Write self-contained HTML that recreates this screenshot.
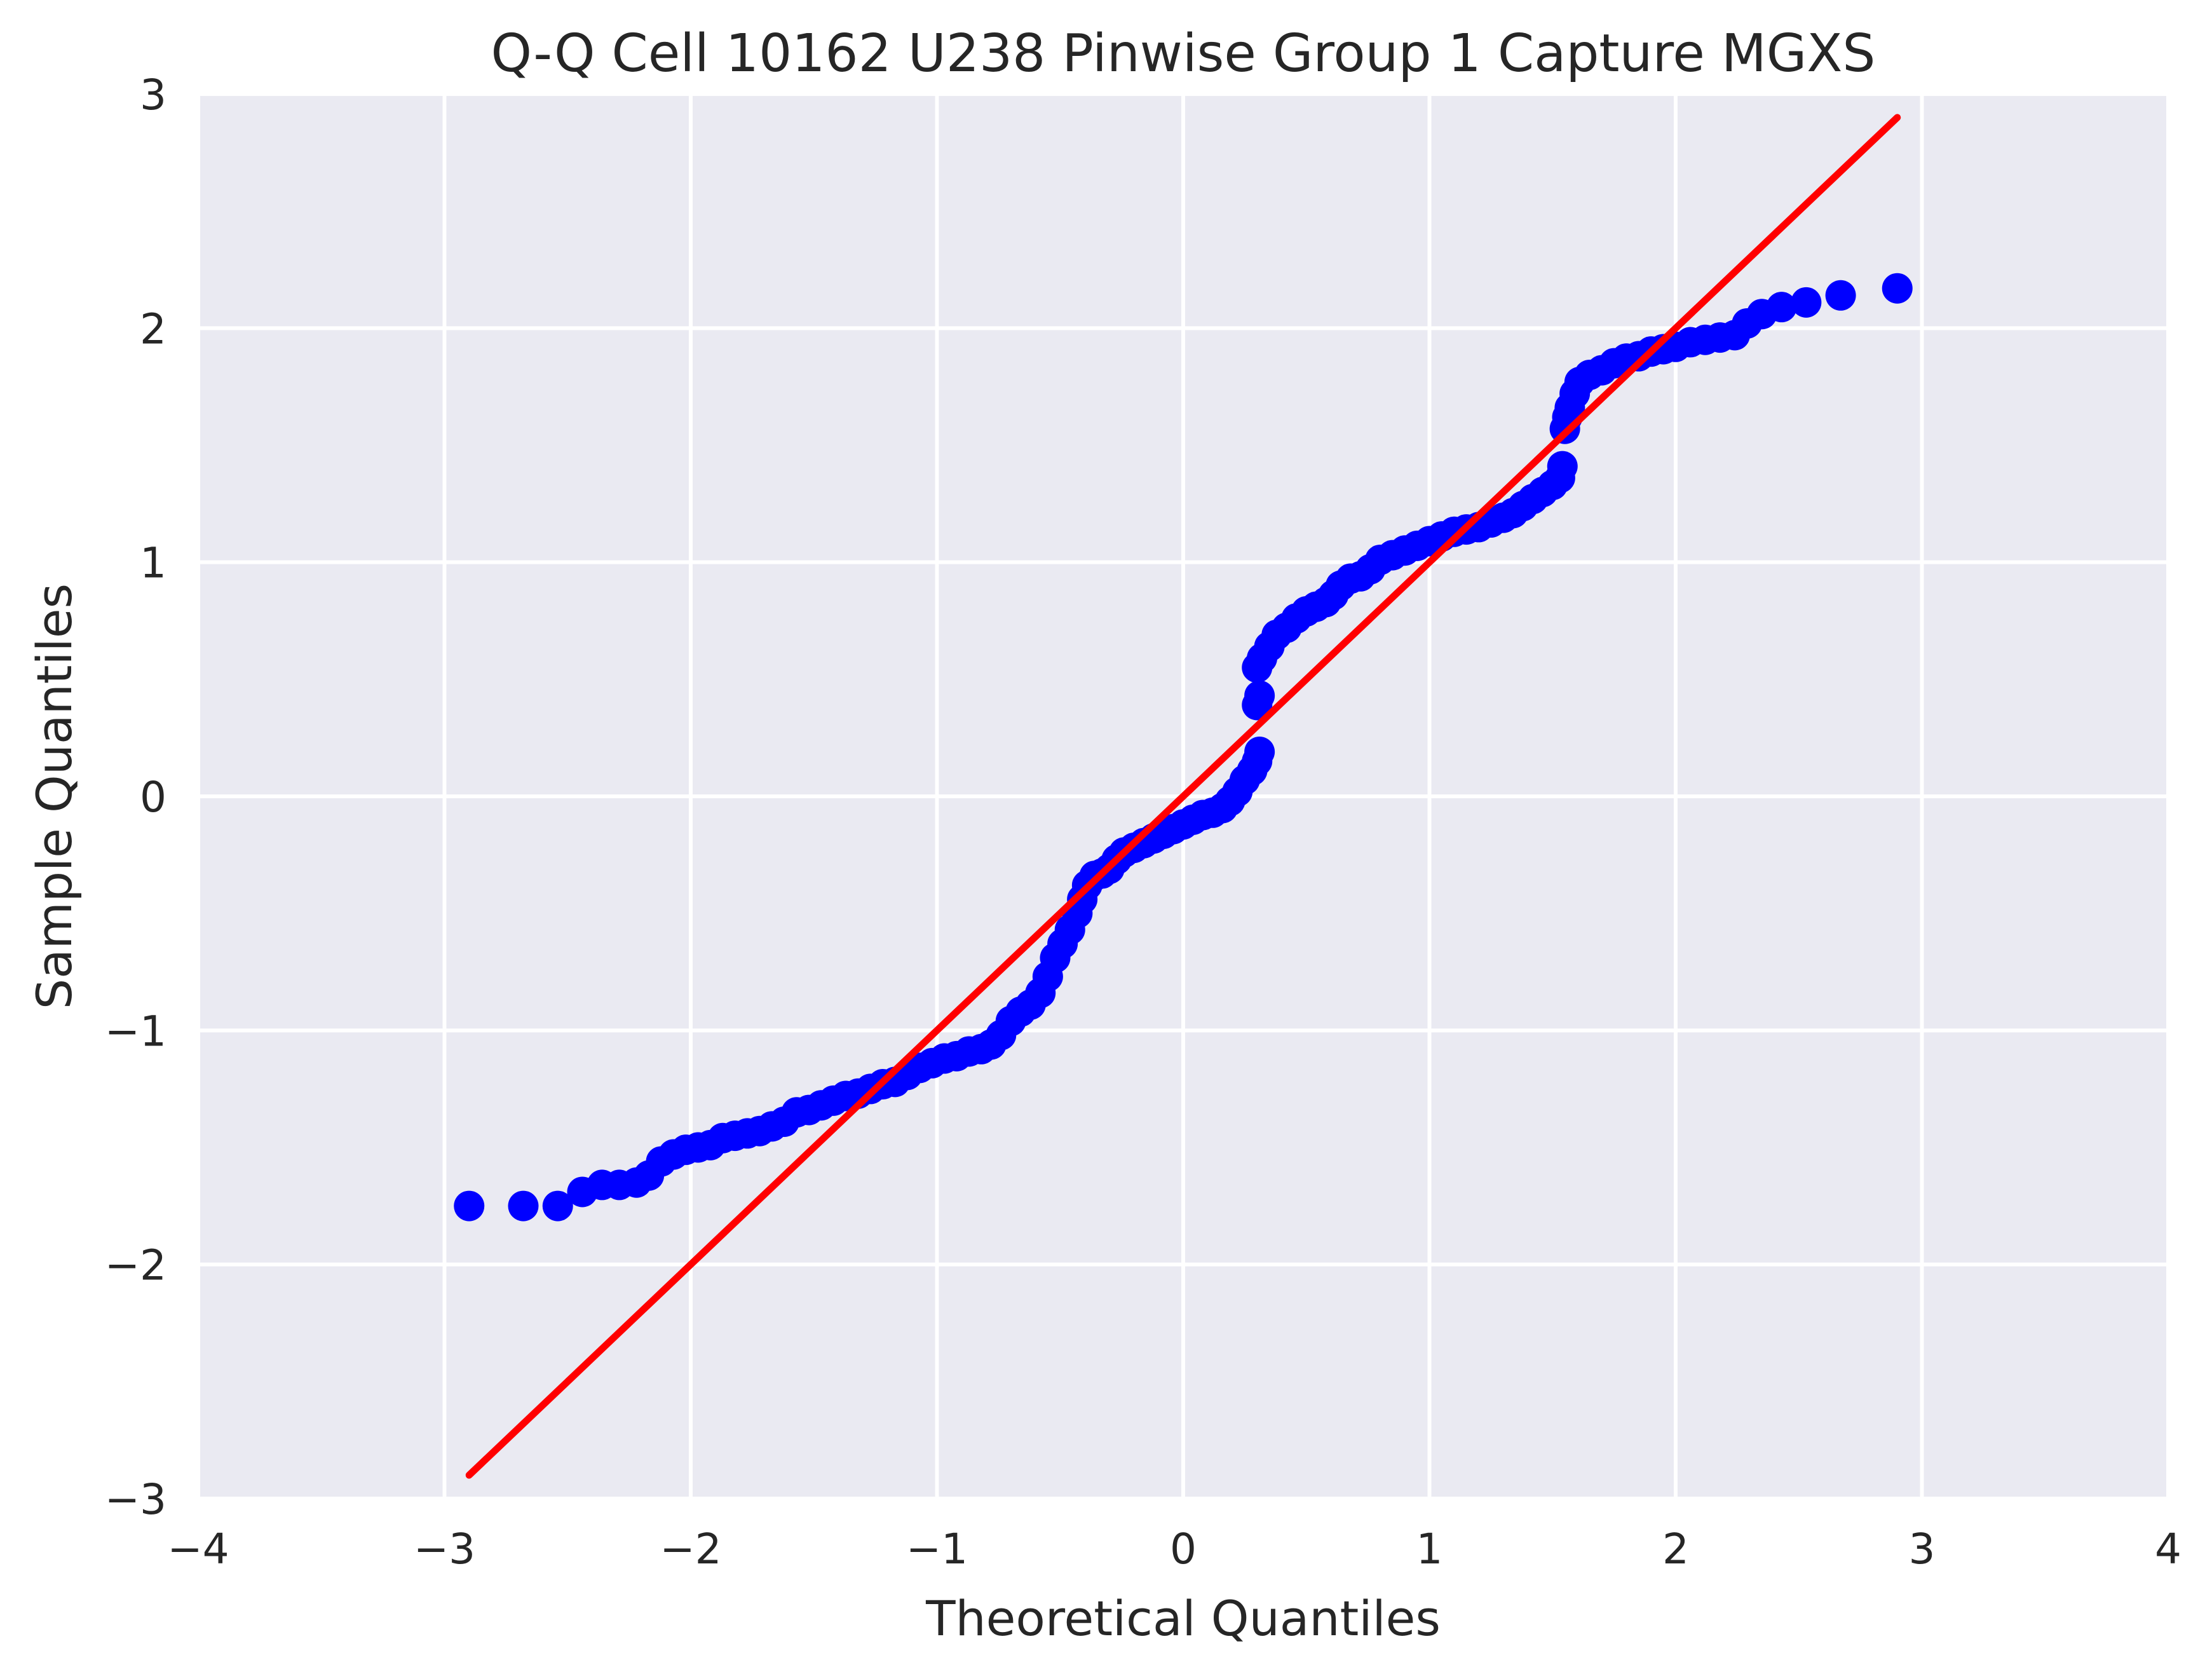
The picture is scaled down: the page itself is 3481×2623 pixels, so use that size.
<!DOCTYPE html>
<html>
<head>
<meta charset="utf-8">
<style>
html,body{margin:0;padding:0;background:#fff;}
svg{display:block;font-family:"DejaVu Sans","Liberation Sans",sans-serif;}
</style>
</head>
<body>
<svg id="chart" width="3481" height="2623" viewBox="0 0 3481 2623" xmlns="http://www.w3.org/2000/svg">
  <rect x="312" y="148" width="3100" height="2210" fill="#eaeaf2"/>
  <g id="grid"></g>
  <g id="marks"></g>
  <g id="refline"></g>
  <g id="xticks"></g>
  <g id="yticks"></g>
  <text x="1862" y="112" font-size="82" fill="#262626" text-anchor="middle">Q-Q Cell 10162 U238 Pinwise Group 1 Capture MGXS</text>
  <text x="1862" y="2573" font-size="76" fill="#262626" text-anchor="middle">Theoretical Quantiles</text>
  <text x="0" y="0" font-size="76" fill="#262626" text-anchor="middle" transform="translate(112,1253) rotate(-90)">Sample Quantiles</text>
</svg>
<script>
const xTicks = [-4,-3,-2,-1,0,1,2,3,4];
const yTicks = [-3,-2,-1,0,1,2,3];
const lineX = [-2.9, 2.9];
const lineY = [-2.9, 2.9];
const theoQ = [-2.9,-2.68,-2.54,-2.44,-2.36,-2.29,-2.22,-2.17,-2.12,-2.07,-2.02,-1.97,-1.92,-1.87,-1.82,-1.77,-1.72,-1.67,-1.62,-1.57,-1.52,-1.47,-1.42,-1.37,-1.32,-1.27,-1.22,-1.17,-1.12,-1.07,-1.02,-0.97,-0.92,-0.87,-0.82,-0.78,-0.74,-0.70,-0.66,-0.62,-0.58,-0.55,-0.52,-0.49,-0.46,-0.43,-0.41,-0.39,-0.36,-0.33,-0.30,-0.27,-0.24,-0.20,-0.16,-0.12,-0.08,-0.04,0.0,0.04,0.08,0.12,0.16,0.19,0.22,0.25,0.28,0.30,0.31,0.30,0.31,0.30,0.32,0.35,0.38,0.42,0.46,0.50,0.54,0.58,0.61,0.64,0.68,0.72,0.76,0.80,0.85,0.90,0.95,1.00,1.05,1.10,1.15,1.20,1.25,1.30,1.34,1.38,1.42,1.46,1.50,1.53,1.54,1.55,1.56,1.57,1.59,1.61,1.65,1.70,1.75,1.80,1.85,1.90,1.95,2.00,2.06,2.12,2.18,2.24,2.29,2.35,2.43,2.53,2.67,2.90];
const sampleQ = [-1.75,-1.75,-1.75,-1.69,-1.66,-1.66,-1.65,-1.62,-1.56,-1.53,-1.51,-1.50,-1.49,-1.46,-1.45,-1.44,-1.43,-1.41,-1.39,-1.35,-1.34,-1.32,-1.30,-1.28,-1.27,-1.25,-1.23,-1.22,-1.19,-1.16,-1.14,-1.12,-1.11,-1.09,-1.08,-1.06,-1.02,-0.96,-0.92,-0.89,-0.84,-0.77,-0.69,-0.63,-0.57,-0.50,-0.44,-0.38,-0.34,-0.33,-0.31,-0.27,-0.24,-0.22,-0.20,-0.18,-0.16,-0.14,-0.12,-0.10,-0.08,-0.07,-0.05,-0.02,0.02,0.07,0.11,0.15,0.19,0.39,0.43,0.55,0.59,0.64,0.69,0.72,0.76,0.79,0.81,0.83,0.86,0.90,0.93,0.94,0.97,1.01,1.03,1.05,1.07,1.09,1.11,1.13,1.14,1.15,1.17,1.19,1.21,1.24,1.27,1.30,1.33,1.36,1.41,1.57,1.62,1.66,1.72,1.77,1.80,1.82,1.85,1.87,1.88,1.90,1.91,1.92,1.94,1.95,1.96,1.97,2.02,2.06,2.09,2.11,2.14,2.17];

const NS = 'http://www.w3.org/2000/svg';
const L = 312, R = 3412, T = 148, B = 2358;
function sx(v){ return L + (v + 4) / 8 * (R - L); }
function sy(v){ return B - (v + 3) / 6 * (B - T); }
function mk(tag, attrs){ const e = document.createElementNS(NS, tag); for (const k in attrs) e.setAttribute(k, attrs[k]); return e; }

const grid = document.getElementById('grid');
xTicks.forEach(t => {
  const l = mk('line', {x1: sx(t), x2: sx(t), y1: T, y2: B, stroke: '#ffffff', 'stroke-width': 6});
  
  
  grid.appendChild(l);
  const tx = mk('text', {x: sx(t), y: B + 102, 'font-size': 66, fill: '#262626', 'text-anchor': 'middle'});
  tx.textContent = t < 0 ? '\u2212' + Math.abs(t) : String(t);
  
  
  document.getElementById('xticks').appendChild(tx);
});
yTicks.forEach(t => {
  const l = mk('line', {x1: L, x2: R, y1: sy(t), y2: sy(t), stroke: '#ffffff', 'stroke-width': 6});
  
  
  grid.appendChild(l);
  const tx = mk('text', {x: L - 50, y: sy(t) + 24, 'font-size': 66, fill: '#262626', 'text-anchor': 'end'});
  tx.textContent = t < 0 ? '\u2212' + Math.abs(t) : String(t);
  
  
  document.getElementById('yticks').appendChild(tx);
});

const marks = document.getElementById('marks');
theoQ.forEach((x, i) => {
  const c = mk('circle', {cx: sx(x), cy: sy(sampleQ[i]), r: 24, fill: '#0000ff'});
  
  
  marks.appendChild(c);
});

const ln = mk('line', {x1: sx(lineX[0]), y1: sy(lineY[0]), x2: sx(lineX[1]), y2: sy(lineY[1]), stroke: '#ff0000', 'stroke-width': 11, 'stroke-linecap': 'round'});


document.getElementById('refline').appendChild(ln);
</script>
</body>
</html>
